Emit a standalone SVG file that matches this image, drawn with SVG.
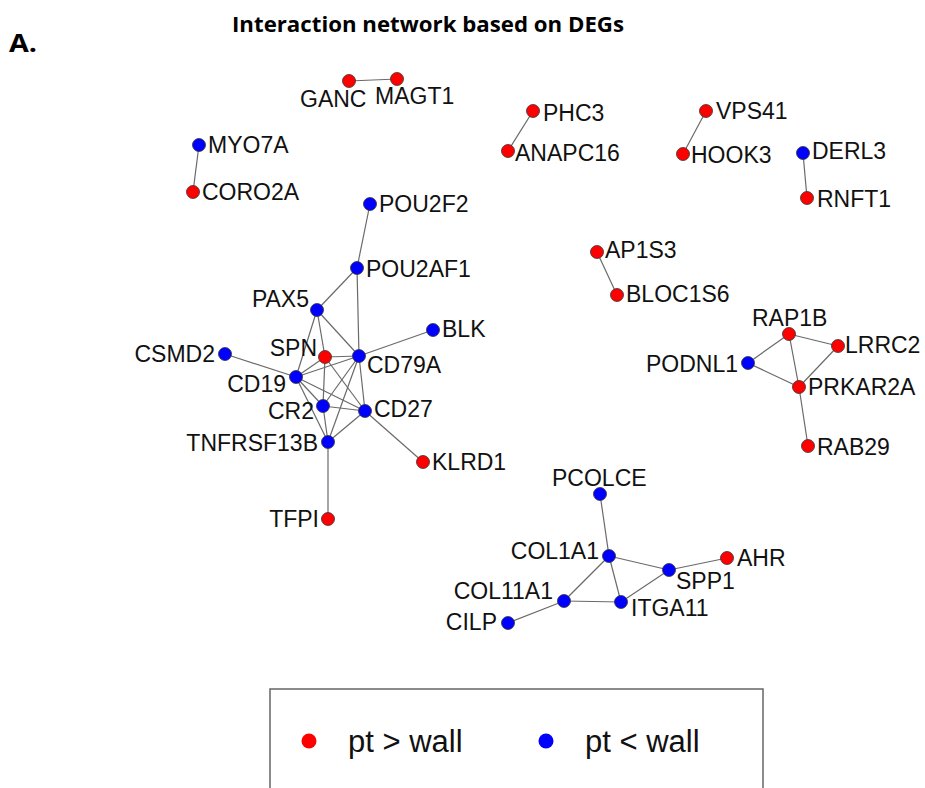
<svg xmlns="http://www.w3.org/2000/svg" width="925" height="788" viewBox="0 0 925 788">
<style>
.e{stroke:#6a6a6a;stroke-width:1.2;fill:none}
.r{fill:#ff0000;stroke:#333;stroke-width:0.8}
.b{fill:#0000ff;stroke:#333;stroke-width:0.8}
.t{font-family:"Liberation Sans",Arial,sans-serif;font-size:23px;fill:#111}
.l{text-anchor:end}
.lg{font-family:"Liberation Sans",Arial,sans-serif;font-size:31px;fill:#111}
.h{font-family:"Open Sans","Liberation Sans",Arial,sans-serif;font-weight:bold;fill:#000}
</style>
<rect width="925" height="788" fill="#fff"/>
<text class="h" x="232" y="32" font-size="21" textLength="392" lengthAdjust="spacingAndGlyphs">Interaction network based on DEGs</text>
<text class="h" x="9" y="52" font-size="25" textLength="28" lengthAdjust="spacingAndGlyphs">A.</text>
<g id="connectors">
<line class="e" x1="349" y1="81" x2="397" y2="79"/>
<line class="e" x1="199" y1="145" x2="193" y2="192"/>
<line class="e" x1="533" y1="111" x2="508" y2="151"/>
<line class="e" x1="706" y1="111" x2="683" y2="154"/>
<line class="e" x1="803" y1="153" x2="807" y2="198"/>
<line class="e" x1="597" y1="252" x2="617" y2="295"/>
<line class="e" x1="370" y1="204" x2="357" y2="268"/>
<line class="e" x1="357" y1="268" x2="317" y2="310"/>
<line class="e" x1="357" y1="268" x2="359" y2="356"/>
<line class="e" x1="317" y1="310" x2="296" y2="377"/>
<line class="e" x1="317" y1="310" x2="325" y2="357"/>
<line class="e" x1="317" y1="310" x2="359" y2="356"/>
<line class="e" x1="359" y1="356" x2="433" y2="330"/>
<line class="e" x1="359" y1="356" x2="325" y2="357"/>
<line class="e" x1="359" y1="356" x2="296" y2="377"/>
<line class="e" x1="359" y1="356" x2="323" y2="406"/>
<line class="e" x1="359" y1="356" x2="365" y2="411"/>
<line class="e" x1="359" y1="356" x2="328" y2="442"/>
<line class="e" x1="225" y1="354" x2="296" y2="377"/>
<line class="e" x1="296" y1="377" x2="325" y2="357"/>
<line class="e" x1="296" y1="377" x2="323" y2="406"/>
<line class="e" x1="296" y1="377" x2="365" y2="411"/>
<line class="e" x1="296" y1="377" x2="328" y2="442"/>
<line class="e" x1="325" y1="357" x2="323" y2="406"/>
<line class="e" x1="325" y1="357" x2="365" y2="411"/>
<line class="e" x1="323" y1="406" x2="365" y2="411"/>
<line class="e" x1="323" y1="406" x2="328" y2="442"/>
<line class="e" x1="365" y1="411" x2="328" y2="442"/>
<line class="e" x1="365" y1="411" x2="423" y2="462"/>
<line class="e" x1="328" y1="442" x2="328" y2="519"/>
<line class="e" x1="789" y1="334" x2="838" y2="346"/>
<line class="e" x1="789" y1="334" x2="748" y2="363"/>
<line class="e" x1="789" y1="334" x2="799" y2="387"/>
<line class="e" x1="748" y1="363" x2="799" y2="387"/>
<line class="e" x1="838" y1="346" x2="799" y2="387"/>
<line class="e" x1="799" y1="387" x2="808" y2="446"/>
<line class="e" x1="600" y1="494" x2="609" y2="556"/>
<line class="e" x1="609" y1="556" x2="669" y2="570"/>
<line class="e" x1="609" y1="556" x2="564" y2="601"/>
<line class="e" x1="609" y1="556" x2="621" y2="602"/>
<line class="e" x1="669" y1="570" x2="727" y2="558"/>
<line class="e" x1="669" y1="570" x2="621" y2="602"/>
<line class="e" x1="564" y1="601" x2="621" y2="602"/>
<line class="e" x1="564" y1="601" x2="508" y2="623"/>
</g>
<g id="GANC"><circle class="r" cx="349" cy="81" r="6.5"/><text class="t" x="300" y="107">GANC</text></g>
<g id="MAGT1"><circle class="r" cx="397" cy="79" r="6.5"/><text class="t" x="375" y="104">MAGT1</text></g>
<g id="MYO7A"><circle class="b" cx="199" cy="145" r="6.5"/><text class="t" x="208" y="153">MYO7A</text></g>
<g id="CORO2A"><circle class="r" cx="193" cy="192" r="6.5"/><text class="t" x="202" y="200">CORO2A</text></g>
<g id="PHC3"><circle class="r" cx="533" cy="111" r="6.5"/><text class="t" x="543" y="121">PHC3</text></g>
<g id="ANAPC16"><circle class="r" cx="508" cy="151" r="6.5"/><text class="t" x="515" y="161">ANAPC16</text></g>
<g id="VPS41"><circle class="r" cx="706" cy="111" r="6.5"/><text class="t" x="716" y="119">VPS41</text></g>
<g id="HOOK3"><circle class="r" cx="683" cy="154" r="6.5"/><text class="t" x="691" y="163">HOOK3</text></g>
<g id="DERL3"><circle class="b" cx="803" cy="153" r="6.5"/><text class="t" x="812" y="159">DERL3</text></g>
<g id="RNFT1"><circle class="r" cx="807" cy="198" r="6.5"/><text class="t" x="817" y="207">RNFT1</text></g>
<g id="AP1S3"><circle class="r" cx="597" cy="252" r="6.5"/><text class="t" x="605" y="258">AP1S3</text></g>
<g id="BLOC1S6"><circle class="r" cx="617" cy="295" r="6.5"/><text class="t" x="626" y="302">BLOC1S6</text></g>
<g id="POU2F2"><circle class="b" cx="370" cy="204" r="6.5"/><text class="t" x="379" y="212">POU2F2</text></g>
<g id="POU2AF1"><circle class="b" cx="357" cy="268" r="6.5"/><text class="t" x="366" y="277">POU2AF1</text></g>
<g id="PAX5"><circle class="b" cx="317" cy="310" r="6.5"/><text class="t l" x="309" y="307">PAX5</text></g>
<g id="BLK"><circle class="b" cx="433" cy="330" r="6.5"/><text class="t" x="442" y="337">BLK</text></g>
<g id="CSMD2"><circle class="b" cx="225" cy="354" r="6.5"/><text class="t l" x="215" y="362">CSMD2</text></g>
<g id="SPN"><circle class="r" cx="325" cy="357" r="6.5"/><text class="t l" x="317" y="356">SPN</text></g>
<g id="CD79A"><circle class="b" cx="359" cy="356" r="6.5"/><text class="t" x="367" y="373">CD79A</text></g>
<g id="CD19"><circle class="b" cx="296" cy="377" r="6.5"/><text class="t l" x="286" y="392">CD19</text></g>
<g id="CR2"><circle class="b" cx="323" cy="406" r="6.5"/><text class="t l" x="314" y="419">CR2</text></g>
<g id="CD27"><circle class="b" cx="365" cy="411" r="6.5"/><text class="t" x="374" y="417">CD27</text></g>
<g id="TNFRSF13B"><circle class="b" cx="328" cy="442" r="6.5"/><text class="t l" x="318" y="451">TNFRSF13B</text></g>
<g id="KLRD1"><circle class="r" cx="423" cy="462" r="6.5"/><text class="t" x="432" y="470">KLRD1</text></g>
<g id="TFPI"><circle class="r" cx="328" cy="519" r="6.5"/><text class="t l" x="319" y="527">TFPI</text></g>
<g id="RAP1B"><circle class="r" cx="789" cy="334" r="6.5"/><text class="t" x="752" y="326">RAP1B</text></g>
<g id="LRRC2"><circle class="r" cx="838" cy="346" r="6.5"/><text class="t" x="845" y="353">LRRC2</text></g>
<g id="PODNL1"><circle class="b" cx="748" cy="363" r="6.5"/><text class="t l" x="738" y="372">PODNL1</text></g>
<g id="PRKAR2A"><circle class="r" cx="799" cy="387" r="6.5"/><text class="t" x="808" y="395">PRKAR2A</text></g>
<g id="RAB29"><circle class="r" cx="808" cy="446" r="6.5"/><text class="t" x="817" y="455">RAB29</text></g>
<g id="PCOLCE"><circle class="b" cx="600" cy="494" r="6.5"/><text class="t" x="552" y="486">PCOLCE</text></g>
<g id="COL1A1"><circle class="b" cx="609" cy="556" r="6.5"/><text class="t l" x="599" y="559">COL1A1</text></g>
<g id="AHR"><circle class="r" cx="727" cy="558" r="6.5"/><text class="t" x="737" y="566">AHR</text></g>
<g id="SPP1"><circle class="b" cx="669" cy="570" r="6.5"/><text class="t" x="676" y="589">SPP1</text></g>
<g id="COL11A1"><circle class="b" cx="564" cy="601" r="6.5"/><text class="t l" x="553" y="599">COL11A1</text></g>
<g id="ITGA11"><circle class="b" cx="621" cy="602" r="6.5"/><text class="t" x="631" y="616">ITGA11</text></g>
<g id="CILP"><circle class="b" cx="508" cy="623" r="6.5"/><text class="t l" x="497" y="630">CILP</text></g>
<g id="legend">
<rect x="270" y="689" width="493" height="120" fill="none" stroke="#666" stroke-width="1.5"/>
<circle cx="309" cy="741" r="7.5" fill="#ff0000"/>
<text class="lg" x="348" y="752">pt &gt; wall</text>
<circle cx="546" cy="741" r="7.5" fill="#0000ff"/>
<text class="lg" x="585" y="752">pt &lt; wall</text>
</g>
</svg>
